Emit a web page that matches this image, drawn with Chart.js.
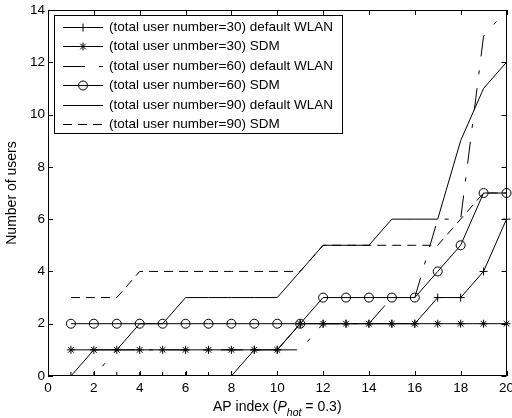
<!DOCTYPE html>
<html>
<head>
<meta charset="utf-8">
<script src="https://cdn.jsdelivr.net/npm/chart.js@4.4.1/dist/chart.umd.min.js"></script>
<style>
  html, body { margin: 0; padding: 0; background: #fff; }
  #wrap { width: 512px; height: 418px; }
</style>
</head>
<body>
<div id="wrap"><canvas id="chart" width="512" height="418"></canvas></div>
<script>
// AP index on the x axis
const apIndex = [1, 2, 3, 4, 5, 6, 7, 8, 9, 10, 11, 12, 13, 14, 15, 16, 17, 18, 19, 20];

// number of users per AP
const wlan30 = [0, 0, 0, 0, 0, 0, 0, 0, 1, 1, 2, 2, 2, 2, 2, 2, 3, 3, 4, 6];
const sdm30  = [1, 1, 1, 1, 1, 1, 1, 1, 1, 1, 2, 2, 2, 2, 2, 2, 2, 2, 2, 2];
const wlan60 = [0, 0, 1, 1, 1, 1, 1, 1, 1, 1, 1, 2, 2, 2, 3, 3, 6, 6, 13, 14];
const sdm60  = [2, 2, 2, 2, 2, 2, 2, 2, 2, 2, 2, 3, 3, 3, 3, 3, 4, 5, 7, 7];
const wlan90 = [0, 1, 1, 2, 2, 3, 3, 3, 3, 3, 4, 5, 5, 5, 6, 6, 6, 9, 11, 12];
const sdm90  = [3, 3, 3, 4, 4, 4, 4, 4, 4, 4, 4, 5, 5, 5, 5, 5, 5, 6, 7, 7];

const seriesLabels = [
    '(total user number=30) default WLAN',
    '(total user unmber=30) SDM',
    '(total user number=60) default WLAN',
    '(total user number=60) SDM',
    '(total user number=90) default WLAN',
    '(total user number=90) SDM'
];

const xTicks = { min: 0, max: 20, step: 2 };
const yTicks = { min: 0, max: 14, step: 2 };

const FONT = '"Liberation Sans", Arial, Helvetica, sans-serif';
const TICK_SIZE = 13.5;

function toPoints(values) {
    return values.map((v, i) => ({ x: apIndex[i], y: v }));
}

function lineSeries(label, values, marker, dash) {
    return {
        label: label,
        data: toPoints(values),
        borderColor: '#000',
        borderWidth: 1,
        borderDash: dash,
        tension: 0,
        fill: false,
        pointStyle: marker || 'circle',
        pointRadius: marker ? (marker === 'circle' ? 4.5 : 4) : 0,
        pointHoverRadius: 0,
        pointBorderColor: '#000',
        pointBackgroundColor: 'rgba(0,0,0,0)',
        pointBorderWidth: 1,
        clip: { left: 6, right: 6, top: 6, bottom: 0 },
        _marker: marker
    };
}

// draws a MATLAB-like marker for the legend
function drawMarker(ctx, marker, x, y) {
    if (!marker) return;
    ctx.beginPath();
    if (marker === 'cross' || marker === 'star') {
        const r = 4;
        ctx.moveTo(x - r, y); ctx.lineTo(x + r, y);
        ctx.moveTo(x, y - r); ctx.lineTo(x, y + r);
        if (marker === 'star') {
            const d = r * Math.SQRT1_2;
            ctx.moveTo(x - d, y - d); ctx.lineTo(x + d, y + d);
            ctx.moveTo(x - d, y + d); ctx.lineTo(x + d, y - d);
        }
    } else if (marker === 'circle') {
        ctx.arc(x, y, 4.5, 0, Math.PI * 2);
    }
    ctx.stroke();
}

// box around the plot with inward ticks on all sides
const matlabAxes = {
    id: 'matlabAxes',
    afterDatasetsDraw(chart) {
        const { ctx, chartArea: a, scales } = chart;
        const len = 5;
        ctx.save();
        ctx.strokeStyle = '#000';
        ctx.lineWidth = 1;
        ctx.setLineDash([]);
        ctx.beginPath();
        scales.x.ticks.forEach(t => {
            const px = Math.round(scales.x.getPixelForValue(t.value)) + 0.5;
            ctx.moveTo(px, a.bottom); ctx.lineTo(px, a.bottom - len);
            ctx.moveTo(px, a.top); ctx.lineTo(px, a.top + len);
        });
        scales.y.ticks.forEach(t => {
            const py = Math.round(scales.y.getPixelForValue(t.value)) + 0.5;
            ctx.moveTo(a.left, py); ctx.lineTo(a.left + len, py);
            ctx.moveTo(a.right, py); ctx.lineTo(a.right - len, py);
        });
        ctx.stroke();
        ctx.strokeRect(Math.round(a.left) + 0.5, Math.round(a.top) + 0.5,
                       Math.round(a.width) - 1, Math.round(a.height) - 1);
        ctx.restore();
    }
};

// x axis title with italic P and subscript "hot"
const xTitle = {
    id: 'xTitle',
    afterDraw(chart) {
        const { ctx, chartArea: a } = chart;
        const parts = [
            { text: 'AP index (', font: `14px ${FONT}`, dy: 0 },
            { text: 'P', font: `italic 14px ${FONT}`, dy: 0 },
            { text: 'hot', font: `italic 10.5px ${FONT}`, dy: 5 },
            { text: ' = 0.3)', font: `14px ${FONT}`, dy: 0 }
        ];
        ctx.save();
        ctx.fillStyle = '#000';
        ctx.textBaseline = 'alphabetic';
        ctx.textAlign = 'left';
        let total = 0;
        parts.forEach(p => { ctx.font = p.font; p.w = ctx.measureText(p.text).width; total += p.w; });
        let x = (a.left + a.right) / 2 - total / 2;
        const base = 411;
        parts.forEach(p => {
            ctx.font = p.font;
            ctx.fillText(p.text, x, base + p.dy);
            x += p.w;
        });
        ctx.restore();
    }
};

// legend in the upper left corner, line sample with marker in the middle
const boxLegend = {
    id: 'boxLegend',
    afterDraw(chart) {
        const { ctx } = chart;
        const box = { left: 54, top: 15, right: 342, bottom: 133 };
        const firstRow = 27, rowStep = 19.4;
        ctx.save();
        ctx.fillStyle = '#fff';
        ctx.fillRect(box.left, box.top, box.right - box.left, box.bottom - box.top);
        ctx.strokeStyle = '#000';
        ctx.lineWidth = 1;
        ctx.setLineDash([]);
        ctx.strokeRect(box.left + 0.5, box.top + 0.5, box.right - box.left, box.bottom - box.top);

        chart.data.datasets.forEach((ds, i) => {
            const y = Math.round(firstRow + i * rowStep) + 0.5;
            ctx.strokeStyle = '#000';
            ctx.lineWidth = 1;
            ctx.setLineDash(ds.borderDash || []);
            ctx.beginPath();
            ctx.moveTo(63, y);
            ctx.lineTo(103, y);
            ctx.stroke();
            ctx.setLineDash([]);
            drawMarker(ctx, ds._marker, 83, y);

            ctx.fillStyle = '#000';
            ctx.font = `${TICK_SIZE}px ${FONT}`;
            ctx.textBaseline = 'middle';
            ctx.textAlign = 'left';
            ctx.fillText(ds.label, 109, y);
        });
        ctx.restore();
    }
};

const ctx = document.getElementById('chart').getContext('2d');
const chart = new Chart(ctx, {
    type: 'line',
    data: {
        datasets: [
            lineSeries(seriesLabels[0], wlan30, 'cross', []),
            lineSeries(seriesLabels[1], sdm30, 'star', []),
            lineSeries(seriesLabels[2], wlan60, null, [22, 14, 4, 14]),
            lineSeries(seriesLabels[3], sdm60, 'circle', []),
            lineSeries(seriesLabels[4], wlan90, null, []),
            lineSeries(seriesLabels[5], sdm90, null, [9, 6])
        ]
    },
    options: {
        responsive: false,
        animation: false,
        devicePixelRatio: 1,
        layout: { padding: { left: 0, right: 5, top: 10, bottom: 0 } },
        plugins: {
            legend: { display: false },
            tooltip: { enabled: false }
        },
        scales: {
            x: {
                type: 'linear',
                min: xTicks.min,
                max: xTicks.max,
                grid: { display: false, drawTicks: false },
                border: { display: false },
                ticks: {
                    stepSize: xTicks.step,
                    color: '#000',
                    padding: 4,
                    maxRotation: 0,
                    font: { family: FONT, size: TICK_SIZE }
                },
                afterFit(scale) {
                    scale.height = 42;
                    scale.paddingLeft = 0;
                    scale.paddingRight = 0;
                }
            },
            y: {
                type: 'linear',
                min: yTicks.min,
                max: yTicks.max,
                grid: { display: false, drawTicks: false },
                border: { display: false },
                ticks: {
                    stepSize: yTicks.step,
                    color: '#000',
                    padding: 3,
                    font: { family: FONT, size: TICK_SIZE }
                },
                title: {
                    display: true,
                    text: 'Number of users',
                    color: '#000',
                    padding: { top: 4, bottom: 0 },
                    font: { family: FONT, size: 14 }
                },
                afterFit(scale) {
                    scale.width = 48;
                    scale.paddingTop = 0;
                    scale.paddingBottom = 0;
                }
            }
        }
    },
    plugins: [matlabAxes, boxLegend, xTitle]
});
</script>
</body>
</html>
